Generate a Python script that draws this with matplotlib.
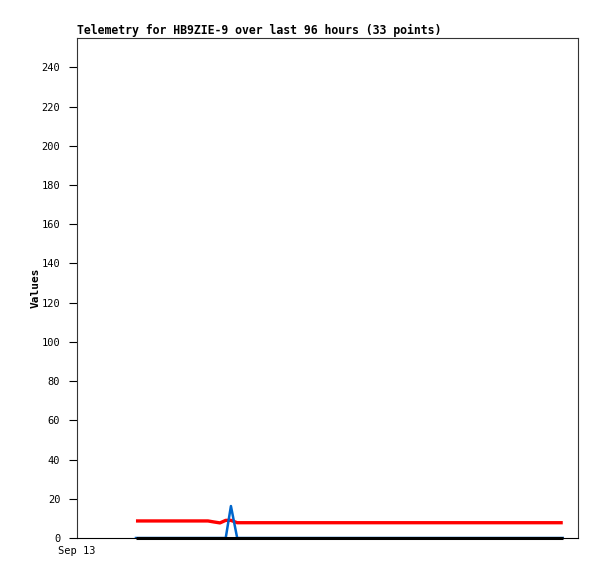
import numpy as np
import matplotlib.pyplot as plt

# hours since Sep 13 00:00
hours = [11.3, 13.0, 15.0, 17.0, 19.0, 21.0, 23.0, 25.1, 26.2, 27.4, 28.5, 29.5, 30.7,
         33, 36, 39, 42, 45, 48, 51, 54, 57, 60, 63, 66, 69, 72, 75, 78, 81, 84, 88, 93.1]
red_vals = [8.7] * 8 + [8.2, 7.7, 9.0, 9.0] + [7.8] * 21
blue_vals = [0] * 10 + [0, 16.3, 0] + [0] * 20
black_vals = [0] * 33

tick_pos = [0]
tick_labels = ["Sep 13"]

fig = plt.figure(figsize=(5.97, 5.79), dpi=100)
ax = fig.add_axes([0.129, 0.0708, 0.839, 0.8636])

ax.plot(hours, black_vals, color="black", lw=2.2, solid_capstyle="butt", zorder=5, clip_on=False)
ax.plot(hours, red_vals, color="#ff0000", lw=2.4, solid_capstyle="butt", zorder=2)
ax.plot(hours, blue_vals, color="#0066cc", lw=1.8, zorder=4)

ax.set_xlim(0, 96)
ax.set_ylim(0, 255)
ax.set_yticks(range(0, 241, 20))
ax.set_xticks(tick_pos)
ax.set_xticklabels(tick_labels)

mono = "DejaVu Sans Mono"
for lab in ax.get_yticklabels() + ax.get_xticklabels():
    lab.set_family(mono)
    lab.set_fontsize(7.5)
ax.tick_params(axis="y", length=6, width=0.8, pad=6)
ax.tick_params(axis="x", length=0, pad=6)

ax.set_title("Telemetry for HB9ZIE-9 over last 96 hours (33 points)",
             family=mono, fontweight="bold", fontsize=8.3, loc="left", pad=3)
ax.set_ylabel("Values", family=mono, fontweight="bold", fontsize=8, labelpad=1)

for s in ax.spines.values():
    s.set_linewidth(0.8)
    s.set_color("#333333")
ax.spines["bottom"].set_color("black")

fig.savefig("out.png", dpi=100)
